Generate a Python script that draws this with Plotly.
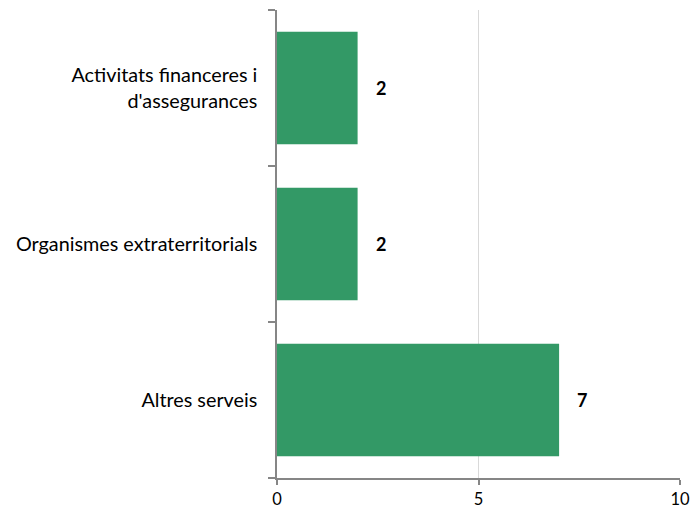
import plotly.graph_objects as go

categories = ["Activitats financeres i<br>d'assegurances", "Organismes extraterritorials", "Altres serveis"]
values = [2, 2, 7]
x_ticks = [0, 5, 10]

bar_color = "#339966"
axis_color = "#868686"
font_family = "Lato, 'Open Sans', sans-serif"

fig = go.Figure()
fig.add_trace(go.Bar(
    y=categories,
    x=values,
    orientation="h",
    marker=dict(color=bar_color, line=dict(width=0)),
    hoverinfo="skip",
))

for c, v in zip(categories, values):
    fig.add_annotation(
        x=v, y=c, text=f"<b>{v}</b>", showarrow=False,
        xanchor="left", xshift=16,
        font=dict(family=font_family, size=18, color="#000000"),
    )

fig.update_layout(
    width=698, height=510,
    margin=dict(l=277, r=18, t=10, b=32),
    plot_bgcolor="white", paper_bgcolor="white",
    bargap=0.28,
    showlegend=False,
    font=dict(family=font_family, size=19, color="#000000"),
)
fig.update_xaxes(
    range=[0, 10], tickvals=x_ticks,
    showgrid=True, gridcolor="#d9d9d9", gridwidth=1,
    showline=True, linecolor=axis_color, linewidth=1.5,
    ticks="outside", ticklen=5, tickcolor=axis_color, tickwidth=1.5,
    ticklabelstandoff=0,
    zeroline=False, fixedrange=True, automargin=False,
    tickfont=dict(family=font_family, size=16.5, color="#000000"),
)
fig.update_yaxes(
    categoryorder="array", categoryarray=categories[::-1],
    showgrid=False,
    showline=True, linecolor=axis_color, linewidth=1.5,
    ticks="outside", tickson="boundaries", ticklen=7, tickcolor=axis_color, tickwidth=1.5,
    ticklabelstandoff=14,
    zeroline=False, fixedrange=True, automargin=False,
    tickfont=dict(family=font_family, size=19.8, color="#000000"),
)

fig.write_html(
    "out.html",
    config={"displayModeBar": False},
    post_script="document.body.style.margin='0';document.body.style.overflow='hidden';",
)
